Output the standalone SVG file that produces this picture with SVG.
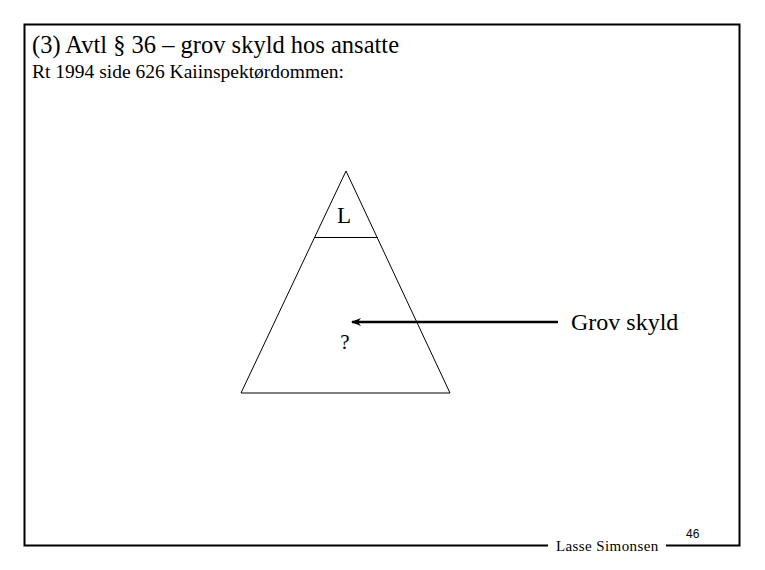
<svg xmlns="http://www.w3.org/2000/svg" width="765" height="570" viewBox="0 0 765 570">
<defs>
<style>
.serif{font-family:"Liberation Serif","Times New Roman",serif;fill:#000}
.ln{stroke:#000;fill:none}
</style>
<marker id="ah" markerWidth="10" markerHeight="8" refX="9" refY="4" orient="auto" markerUnits="userSpaceOnUse">
<path d="M0,0 L10,4 L0,8 L3,4 Z" fill="#000"/>
</marker>
</defs>
<rect width="765" height="570" fill="#fff"/>
<g id="frame">
<path class="ln" stroke-width="2" d="M548,545.5 H24.5 V24.5 H739.5 V545.5 H666"/>
</g>
<g id="title">
<text class="serif" x="32" y="53" font-size="24.5">(3) Avtl § 36 – grov skyld hos ansatte</text>
<text class="serif" x="32" y="78" font-size="19.5">Rt 1994 side 626 Kaiinspektørdommen:</text>
</g>
<g id="triangle">
<path class="ln" stroke-width="1" d="M346,171 L450,393 H241 Z"/>
<line class="ln" stroke-width="1" x1="315" y1="237.5" x2="378" y2="237.5"/>
<text class="serif" x="344" y="223" font-size="23" text-anchor="middle">L</text>
<text class="serif" x="345" y="349" font-size="21" text-anchor="middle">?</text>
</g>
<g id="label">
<text class="serif" x="571" y="330" font-size="24">Grov skyld</text>
</g>
<g id="connectors">
<line class="ln" stroke-width="2.5" x1="558" y1="322" x2="352" y2="322" marker-end="url(#ah)"/>
</g>
<g id="footer">
<text class="serif" x="556" y="551" font-size="15" letter-spacing="0.4">Lasse Simonsen</text>
<text x="686" y="538" font-size="12" font-family="Liberation Sans, Arial, sans-serif">46</text>
</g>
</svg>
